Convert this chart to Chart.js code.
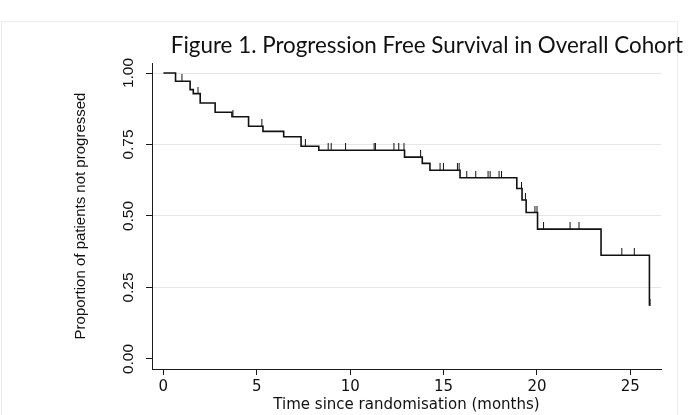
<!DOCTYPE html>
<html>
<head>
<meta charset="utf-8">
<script src="https://cdn.jsdelivr.net/npm/chart.js@4.4.1/dist/chart.umd.min.js"></script>
<style>
  html, body { margin: 0; padding: 0; background: #fff; }
  #wrap { position: relative; width: 693px; height: 415px; overflow: hidden; }
  #moldura { position: absolute; left: 1px; top: 21px; width: 677px; height: 420px; border: 1px solid #ededed; box-sizing: border-box; }
  #titulo { position: absolute; right: 10px; top: 34px; font: 22.4px Lato, sans-serif; line-height: 1; color: #111; white-space: nowrap; }
  canvas { position: absolute; left: 0; top: 0; }
</style>
</head>
<body>
<div id="wrap">
  <div id="moldura"></div>
  <canvas id="grafico" width="693" height="415"></canvas>
  <div id="titulo">Figure 1. Progression Free Survival in Overall Cohort</div>
</div>
<script>
// tempos dos eventos (meses) e sobrevida apos cada queda
const tempos = [0, 0.65, 1.43, 1.6, 1.97, 2.77, 3.67, 4.56, 5.33, 6.44, 7.37, 8.32,
  12.91, 13.86, 14.27, 15.88, 18.92, 19.2, 19.42, 20.03, 23.43, 26.02];
const sobrevida = [1, 0.971, 0.942, 0.928, 0.895, 0.863, 0.847, 0.814, 0.796, 0.777, 0.744, 0.730,
  0.706, 0.684, 0.660, 0.634, 0.596, 0.556, 0.512, 0.454, 0.363, 0.186];

// censuras (marcas verticais)
const temposCensura = [0.99, 1.85, 3.72, 5.27, 7.6, 8.82, 8.98, 9.75, 11.28, 11.35, 12.34, 12.6, 12.88,
  13.77, 14.81, 14.99, 15.74, 15.83, 16.24, 16.72, 17.38, 17.49, 17.97, 18.1,
  19.17, 19.38, 19.89, 20.0, 20.35, 21.77, 22.25, 24.54, 25.21, 26.05];
const nivelCensura = [0.971, 0.928, 0.847, 0.814, 0.744, 0.730, 0.730, 0.730, 0.730, 0.730, 0.730, 0.730, 0.730,
  0.706, 0.660, 0.660, 0.660, 0.660, 0.634, 0.634, 0.634, 0.634, 0.634, 0.634,
  0.596, 0.556, 0.512, 0.512, 0.454, 0.454, 0.454, 0.363, 0.363, 0.186];

const ticksX = [0, 5, 10, 15, 20, 25];
const ticksY = [0, 0.25, 0.5, 0.75, 1];

// marca de censura: traco que sobe a partir da curva
const marca = document.createElement('canvas');
marca.width = 3;
marca.height = 14;
let mctx = marca.getContext('2d');
mctx.fillStyle = '#111';
mctx.fillRect(1, 0, 1, 7);

let ctx = document.getElementById('grafico').getContext('2d');

let grafico = new Chart(ctx, {
  type: 'scatter',
  data: {
    datasets: [{
      data: tempos.map((t, i) => ({ x: t, y: sobrevida[i] })),
      showLine: true,
      stepped: true,
      borderColor: '#111',
      borderWidth: 1.6,
      pointRadius: 0
    }, {
      data: temposCensura.map((t, i) => ({ x: t, y: nivelCensura[i] })),
      showLine: false,
      pointStyle: marca,
      pointRadius: 3
    }]
  },
  options: {
    responsive: false,
    animation: false,
    layout: { padding: { top: 63, right: 32, bottom: 0, left: 0 } },
    plugins: {
      legend: { display: false },
      tooltip: { enabled: false }
    },
    scales: {
      x: {
        type: 'linear',
        min: -0.61,
        max: 26.64,
        afterBuildTicks: s => { s.ticks = ticksX.map(v => ({ value: v })); },
        afterFit: s => { s.height = 46; },
        grid: { drawOnChartArea: false, tickLength: 6, tickColor: '#1a1a1a' },
        border: { color: '#1a1a1a', width: 1 },
        ticks: {
          color: '#111',
          padding: 3,
          maxRotation: 0,
          font: { family: 'DejaVu Sans', size: 15 }
        },
        title: {
          display: true,
          text: 'Time since randomisation (months)',
          color: '#111',
          padding: { top: 0, bottom: 1 },
          font: { family: 'DejaVu Sans', size: 15 }
        }
      },
      y: {
        min: -0.035,
        max: 1.035,
        afterBuildTicks: s => { s.ticks = ticksY.map(v => ({ value: v })); },
        afterFit: s => { s.width = 152; },
        grid: {
          color: c => c.tick && c.tick.value === 0 ? 'rgba(0,0,0,0)' : '#e6e6e6',
          tickLength: 6,
          tickColor: '#1a1a1a'
        },
        border: { color: '#1a1a1a', width: 1 },
        ticks: {
          color: '#111',
          padding: 2,
          minRotation: 90,
          maxRotation: 90,
          crossAlign: 'center',
          font: { family: 'Liberation Sans', size: 15.5 },
          callback: v => v.toFixed(2)
        },
        title: {
          display: true,
          text: 'Proportion of patients not progressed',
          color: '#111',
          padding: { top: 72, bottom: 0 },
          font: { family: 'Liberation Sans', size: 15 }
        }
      }
    }
  }
});
</script>
</body>
</html>
